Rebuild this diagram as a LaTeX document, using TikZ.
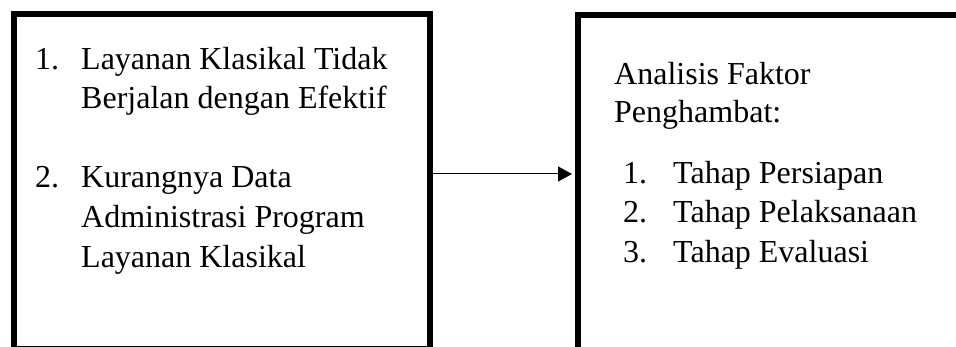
\documentclass[tikz,border=0pt]{standalone}
\usepackage{fontspec}
\setmainfont{Liberation Serif}
\usetikzlibrary{arrows.meta}
\begin{document}
\begin{tikzpicture}[x=1pt, y=1pt, every node/.style={inner sep=0pt, font=\fontsize{32}{39}\selectfont}]
    \useasboundingbox (0,0) rectangle (956,347);
    
    \node[draw, line width=6pt, minimum width=416pt, minimum height=335pt, anchor=north west] (masalah) at (11,336) {};
    \node[draw, line width=6pt, minimum width=392pt, minimum height=337pt, anchor=north west] (analisis) at (575,335) {};
    
    \node[anchor=base west] (m1) at (35,277) {1.};
    \node[anchor=base west] (m1a) at (81,277) {Layanan Klasikal Tidak};
    \node[anchor=base west] (m1b) at (81,238) {Berjalan dengan Efektif};
    \node[anchor=base west] (m2) at (35,159) {2.};
    \node[anchor=base west] (m2a) at (81,159) {Kurangnya Data};
    \node[anchor=base west] (m2b) at (81,119) {Administrasi Program};
    \node[anchor=base west] (m2c) at (81,79) {Layanan Klasikal};
    
    \node[anchor=base west] (judul1) at (614,262) {Analisis Faktor};
    \node[anchor=base west] (judul2) at (614,224) {Penghambat:};
    \foreach \i/\t/\yy in {1/Tahap Persiapan/163, 2/Tahap Pelaksanaan/124, 3/Tahap Evaluasi/84}
    {
    \node[anchor=base west] (no\i) at (623,\yy) {\i.};
    \node[anchor=base west] (tahap\i) at (673,\yy) {\t};
    }
    
    \coordinate (tengah) at (500,173);
    \draw[line width=1pt, -{Triangle[length=14pt,width=15pt]}, shorten >=3pt] (masalah.east |- tengah) -- (analisis.west |- tengah);
   
\end{tikzpicture}
\end{document}
